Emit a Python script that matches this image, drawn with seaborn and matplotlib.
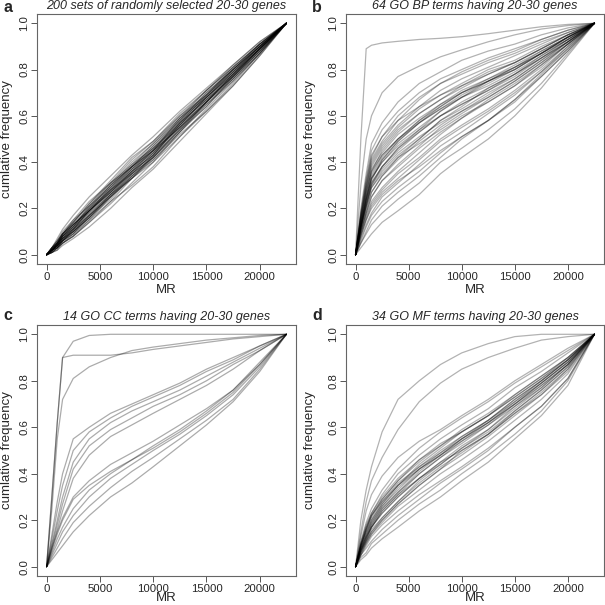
import numpy as np
import pandas as pd
import seaborn as sns
from matplotlib import pyplot as plt

mr_knots = [0, 500, 1000, 1500, 2500, 4000, 6000, 8000, 10000, 12500, 15000, 17500, 20000, 22500]

# a: random gene sets (readings at the inner knots)
random_sets = [
    [0.03, 0.06, 0.09, 0.14, 0.22, 0.31, 0.41, 0.49, 0.60, 0.71, 0.81, 0.91],
    [0.01, 0.03, 0.05, 0.08, 0.14, 0.22, 0.31, 0.40, 0.51, 0.63, 0.75, 0.87],
    [0.02, 0.05, 0.07, 0.12, 0.20, 0.28, 0.36, 0.43, 0.56, 0.68, 0.78, 0.89],
    [0.02, 0.04, 0.06, 0.10, 0.18, 0.28, 0.38, 0.47, 0.58, 0.68, 0.79, 0.90],
    [0.03, 0.05, 0.09, 0.13, 0.19, 0.27, 0.35, 0.42, 0.54, 0.66, 0.77, 0.89],
    [0.02, 0.03, 0.06, 0.09, 0.16, 0.24, 0.34, 0.43, 0.56, 0.68, 0.80, 0.90],
    [0.03, 0.06, 0.10, 0.15, 0.21, 0.29, 0.38, 0.45, 0.58, 0.70, 0.80, 0.90],
    [0.02, 0.04, 0.07, 0.10, 0.16, 0.26, 0.33, 0.40, 0.53, 0.65, 0.75, 0.87],
    [0.02, 0.05, 0.08, 0.12, 0.21, 0.30, 0.38, 0.47, 0.59, 0.69, 0.80, 0.91],
    [0.01, 0.03, 0.06, 0.11, 0.17, 0.25, 0.35, 0.44, 0.55, 0.65, 0.76, 0.88],
    [0.02, 0.04, 0.08, 0.11, 0.19, 0.29, 0.39, 0.46, 0.57, 0.67, 0.77, 0.89],
    [0.02, 0.04, 0.06, 0.09, 0.17, 0.27, 0.36, 0.45, 0.59, 0.71, 0.81, 0.91],
    [0.03, 0.05, 0.08, 0.13, 0.20, 0.30, 0.40, 0.48, 0.59, 0.68, 0.78, 0.89],
    [0.02, 0.03, 0.05, 0.09, 0.15, 0.25, 0.33, 0.41, 0.52, 0.62, 0.74, 0.87],
    [0.02, 0.04, 0.07, 0.12, 0.18, 0.26, 0.35, 0.44, 0.57, 0.67, 0.79, 0.90],
    [0.02, 0.05, 0.09, 0.14, 0.22, 0.32, 0.42, 0.49, 0.61, 0.71, 0.82, 0.92],
    [0.01, 0.02, 0.05, 0.08, 0.15, 0.23, 0.30, 0.38, 0.51, 0.62, 0.73, 0.86],
    [0.02, 0.04, 0.08, 0.12, 0.19, 0.27, 0.37, 0.45, 0.55, 0.66, 0.78, 0.90],
    [0.02, 0.04, 0.06, 0.11, 0.19, 0.28, 0.35, 0.42, 0.55, 0.67, 0.77, 0.88],
    [0.03, 0.06, 0.09, 0.13, 0.20, 0.30, 0.38, 0.46, 0.56, 0.68, 0.79, 0.89],
    [0.02, 0.03, 0.06, 0.10, 0.16, 0.25, 0.34, 0.42, 0.53, 0.64, 0.76, 0.88],
    [0.02, 0.04, 0.08, 0.13, 0.19, 0.29, 0.37, 0.46, 0.58, 0.70, 0.80, 0.91],
    [0.01, 0.03, 0.07, 0.10, 0.17, 0.26, 0.36, 0.43, 0.54, 0.66, 0.78, 0.89],
    [0.02, 0.05, 0.08, 0.13, 0.19, 0.27, 0.36, 0.45, 0.57, 0.69, 0.79, 0.90],
    [0.02, 0.04, 0.07, 0.11, 0.17, 0.25, 0.33, 0.42, 0.54, 0.64, 0.77, 0.88],
    [0.03, 0.05, 0.09, 0.14, 0.21, 0.31, 0.39, 0.48, 0.60, 0.69, 0.81, 0.91],
    [0.02, 0.04, 0.06, 0.10, 0.16, 0.26, 0.34, 0.41, 0.53, 0.66, 0.76, 0.87],
    [0.02, 0.05, 0.07, 0.11, 0.19, 0.28, 0.37, 0.44, 0.56, 0.66, 0.78, 0.89],
    [0.03, 0.07, 0.11, 0.17, 0.25, 0.34, 0.43, 0.51, 0.62, 0.72, 0.82, 0.92],
    [0.01, 0.02, 0.04, 0.07, 0.12, 0.20, 0.29, 0.37, 0.49, 0.61, 0.73, 0.86],
    [0.02, 0.05, 0.09, 0.15, 0.23, 0.31, 0.38, 0.45, 0.55, 0.66, 0.77, 0.89],
    [0.01, 0.03, 0.05, 0.08, 0.14, 0.23, 0.33, 0.43, 0.57, 0.69, 0.80, 0.90],
]

# b: GO BP terms
bp_terms = [
    [0.50, 0.89, 0.905, 0.915, 0.922, 0.93, 0.935, 0.942, 0.955, 0.97, 0.985, 0.995],
    [0.30, 0.50, 0.60, 0.70, 0.77, 0.815, 0.855, 0.885, 0.92, 0.95, 0.975, 0.99],
    [0.20, 0.35, 0.48, 0.57, 0.66, 0.74, 0.79, 0.84, 0.88, 0.91, 0.95, 0.98],
    [0.18, 0.33, 0.45, 0.54, 0.62, 0.70, 0.76, 0.80, 0.85, 0.89, 0.93, 0.97],
    [0.17, 0.30, 0.41, 0.49, 0.58, 0.67, 0.74, 0.79, 0.84, 0.88, 0.93, 0.97],
    [0.18, 0.32, 0.43, 0.51, 0.58, 0.64, 0.69, 0.73, 0.78, 0.83, 0.89, 0.95],
    [0.16, 0.29, 0.39, 0.47, 0.55, 0.63, 0.69, 0.74, 0.80, 0.84, 0.90, 0.95],
    [0.15, 0.28, 0.38, 0.46, 0.54, 0.61, 0.67, 0.73, 0.79, 0.83, 0.89, 0.95],
    [0.15, 0.27, 0.37, 0.44, 0.52, 0.59, 0.65, 0.70, 0.75, 0.80, 0.87, 0.94],
    [0.13, 0.24, 0.33, 0.41, 0.49, 0.57, 0.64, 0.70, 0.76, 0.82, 0.88, 0.94],
    [0.14, 0.25, 0.35, 0.43, 0.50, 0.58, 0.64, 0.70, 0.75, 0.81, 0.87, 0.94],
    [0.13, 0.24, 0.33, 0.40, 0.48, 0.55, 0.62, 0.68, 0.73, 0.79, 0.86, 0.93],
    [0.12, 0.22, 0.31, 0.38, 0.46, 0.54, 0.62, 0.68, 0.75, 0.80, 0.87, 0.93],
    [0.13, 0.24, 0.33, 0.40, 0.47, 0.54, 0.60, 0.65, 0.71, 0.77, 0.85, 0.92],
    [0.12, 0.23, 0.31, 0.38, 0.45, 0.53, 0.60, 0.65, 0.71, 0.78, 0.85, 0.93],
    [0.12, 0.21, 0.29, 0.36, 0.43, 0.50, 0.58, 0.63, 0.70, 0.76, 0.84, 0.92],
    [0.11, 0.20, 0.27, 0.34, 0.42, 0.50, 0.58, 0.64, 0.72, 0.78, 0.85, 0.92],
    [0.12, 0.21, 0.29, 0.35, 0.42, 0.48, 0.54, 0.60, 0.66, 0.73, 0.82, 0.91],
    [0.10, 0.18, 0.25, 0.32, 0.38, 0.46, 0.53, 0.59, 0.66, 0.73, 0.81, 0.91],
    [0.09, 0.17, 0.23, 0.29, 0.36, 0.44, 0.52, 0.59, 0.67, 0.74, 0.82, 0.91],
    [0.08, 0.15, 0.21, 0.27, 0.33, 0.41, 0.49, 0.55, 0.62, 0.70, 0.79, 0.90],
    [0.08, 0.15, 0.20, 0.26, 0.32, 0.38, 0.45, 0.51, 0.58, 0.67, 0.77, 0.88],
    [0.06, 0.12, 0.17, 0.23, 0.29, 0.36, 0.44, 0.51, 0.58, 0.66, 0.77, 0.88],
    [0.05, 0.10, 0.15, 0.21, 0.27, 0.34, 0.42, 0.50, 0.58, 0.67, 0.78, 0.89],
    [0.05, 0.09, 0.13, 0.18, 0.24, 0.31, 0.40, 0.46, 0.54, 0.63, 0.74, 0.87],
    [0.03, 0.06, 0.09, 0.14, 0.19, 0.26, 0.35, 0.42, 0.50, 0.60, 0.72, 0.86],
    [0.16, 0.29, 0.40, 0.48, 0.56, 0.64, 0.71, 0.76, 0.81, 0.86, 0.91, 0.96],
    [0.14, 0.26, 0.36, 0.45, 0.53, 0.61, 0.67, 0.72, 0.78, 0.83, 0.89, 0.95],
    [0.13, 0.25, 0.34, 0.42, 0.50, 0.58, 0.65, 0.71, 0.76, 0.81, 0.87, 0.94],
    [0.15, 0.27, 0.36, 0.43, 0.50, 0.57, 0.63, 0.68, 0.74, 0.80, 0.87, 0.94],
    [0.12, 0.23, 0.32, 0.41, 0.49, 0.57, 0.63, 0.69, 0.75, 0.81, 0.88, 0.94],
    [0.11, 0.21, 0.30, 0.38, 0.46, 0.53, 0.60, 0.66, 0.72, 0.78, 0.86, 0.93],
    [0.12, 0.22, 0.30, 0.37, 0.44, 0.51, 0.57, 0.62, 0.68, 0.75, 0.83, 0.92],
    [0.10, 0.19, 0.27, 0.34, 0.41, 0.49, 0.56, 0.62, 0.69, 0.76, 0.84, 0.92],
    [0.10, 0.18, 0.25, 0.32, 0.39, 0.47, 0.55, 0.61, 0.68, 0.75, 0.83, 0.91],
    [0.09, 0.16, 0.22, 0.28, 0.35, 0.42, 0.50, 0.56, 0.63, 0.71, 0.80, 0.90],
    [0.07, 0.13, 0.18, 0.25, 0.31, 0.39, 0.47, 0.53, 0.61, 0.69, 0.79, 0.89],
    [0.17, 0.31, 0.42, 0.51, 0.60, 0.68, 0.74, 0.78, 0.83, 0.87, 0.92, 0.96],
]

# c: GO CC terms
cc_terms = [
    [0.30, 0.62, 0.90, 0.97, 0.995, 1.0, 1.0, 1.0, 1.0, 1.0, 1.0, 1.0],
    [0.31, 0.62, 0.90, 0.91, 0.91, 0.91, 0.92, 0.935, 0.95, 0.965, 0.98, 0.99],
    [0.25, 0.55, 0.72, 0.81, 0.86, 0.90, 0.93, 0.945, 0.96, 0.975, 0.985, 0.995],
    [0.14, 0.28, 0.40, 0.55, 0.60, 0.66, 0.70, 0.74, 0.79, 0.85, 0.90, 0.95],
    [0.12, 0.24, 0.35, 0.50, 0.58, 0.64, 0.69, 0.73, 0.78, 0.84, 0.89, 0.95],
    [0.10, 0.20, 0.30, 0.45, 0.55, 0.62, 0.67, 0.71, 0.76, 0.82, 0.88, 0.94],
    [0.09, 0.18, 0.27, 0.42, 0.52, 0.59, 0.64, 0.69, 0.74, 0.80, 0.87, 0.93],
    [0.08, 0.16, 0.24, 0.38, 0.48, 0.56, 0.61, 0.66, 0.72, 0.78, 0.85, 0.93],
    [0.07, 0.14, 0.20, 0.29, 0.35, 0.41, 0.46, 0.51, 0.58, 0.66, 0.75, 0.87],
    [0.08, 0.15, 0.21, 0.30, 0.37, 0.44, 0.49, 0.54, 0.61, 0.68, 0.76, 0.88],
    [0.06, 0.12, 0.17, 0.25, 0.33, 0.40, 0.46, 0.52, 0.59, 0.67, 0.76, 0.87],
    [0.05, 0.10, 0.15, 0.22, 0.30, 0.38, 0.44, 0.50, 0.57, 0.65, 0.74, 0.86],
    [0.04, 0.08, 0.12, 0.19, 0.26, 0.34, 0.41, 0.47, 0.55, 0.63, 0.72, 0.85],
    [0.03, 0.06, 0.09, 0.15, 0.22, 0.30, 0.36, 0.43, 0.52, 0.61, 0.71, 0.84],
]

# d: GO MF terms
mf_terms = [
    [0.20, 0.33, 0.43, 0.58, 0.72, 0.80, 0.87, 0.92, 0.96, 0.99, 1.0, 1.0],
    [0.15, 0.28, 0.37, 0.47, 0.59, 0.71, 0.79, 0.85, 0.90, 0.94, 0.975, 0.99],
    [0.13, 0.24, 0.31, 0.39, 0.47, 0.54, 0.59, 0.65, 0.72, 0.80, 0.87, 0.94],
    [0.11, 0.19, 0.25, 0.33, 0.42, 0.51, 0.58, 0.64, 0.71, 0.79, 0.86, 0.93],
    [0.10, 0.18, 0.23, 0.31, 0.40, 0.48, 0.55, 0.61, 0.68, 0.77, 0.84, 0.92],
    [0.10, 0.17, 0.23, 0.30, 0.38, 0.46, 0.53, 0.58, 0.65, 0.73, 0.81, 0.89],
    [0.09, 0.15, 0.20, 0.27, 0.35, 0.44, 0.51, 0.58, 0.65, 0.74, 0.82, 0.90],
    [0.09, 0.16, 0.22, 0.29, 0.37, 0.46, 0.52, 0.59, 0.66, 0.74, 0.82, 0.90],
    [0.09, 0.15, 0.20, 0.27, 0.35, 0.43, 0.50, 0.56, 0.63, 0.72, 0.80, 0.89],
    [0.09, 0.16, 0.21, 0.28, 0.36, 0.43, 0.49, 0.55, 0.62, 0.70, 0.78, 0.87],
    [0.08, 0.14, 0.19, 0.26, 0.33, 0.42, 0.48, 0.55, 0.62, 0.71, 0.79, 0.88],
    [0.08, 0.13, 0.18, 0.25, 0.32, 0.41, 0.48, 0.55, 0.63, 0.71, 0.80, 0.89],
    [0.08, 0.13, 0.18, 0.25, 0.32, 0.40, 0.47, 0.53, 0.61, 0.69, 0.78, 0.87],
    [0.07, 0.13, 0.17, 0.24, 0.31, 0.38, 0.45, 0.50, 0.57, 0.66, 0.75, 0.85],
    [0.07, 0.12, 0.17, 0.23, 0.30, 0.38, 0.45, 0.52, 0.59, 0.69, 0.77, 0.87],
    [0.07, 0.12, 0.17, 0.23, 0.30, 0.38, 0.44, 0.51, 0.58, 0.67, 0.76, 0.86],
    [0.07, 0.11, 0.16, 0.21, 0.28, 0.36, 0.43, 0.49, 0.57, 0.66, 0.74, 0.85],
    [0.06, 0.11, 0.15, 0.20, 0.27, 0.35, 0.42, 0.50, 0.57, 0.67, 0.76, 0.86],
    [0.06, 0.10, 0.14, 0.19, 0.26, 0.33, 0.40, 0.46, 0.54, 0.63, 0.72, 0.83],
    [0.05, 0.09, 0.13, 0.18, 0.24, 0.31, 0.37, 0.43, 0.51, 0.60, 0.69, 0.81],
    [0.05, 0.08, 0.11, 0.16, 0.22, 0.29, 0.36, 0.42, 0.50, 0.60, 0.69, 0.81],
    [0.04, 0.06, 0.10, 0.14, 0.20, 0.27, 0.33, 0.40, 0.48, 0.57, 0.67, 0.80],
    [0.03, 0.05, 0.08, 0.12, 0.17, 0.24, 0.30, 0.37, 0.45, 0.55, 0.65, 0.78],
    [0.09, 0.16, 0.22, 0.29, 0.37, 0.45, 0.52, 0.58, 0.65, 0.73, 0.81, 0.90],
    [0.08, 0.14, 0.19, 0.26, 0.34, 0.42, 0.49, 0.56, 0.63, 0.72, 0.80, 0.89],
    [0.07, 0.12, 0.17, 0.24, 0.31, 0.40, 0.47, 0.54, 0.62, 0.70, 0.79, 0.88],
    [0.06, 0.11, 0.15, 0.21, 0.28, 0.37, 0.44, 0.51, 0.59, 0.68, 0.77, 0.87],
    [0.10, 0.17, 0.22, 0.28, 0.35, 0.42, 0.48, 0.54, 0.61, 0.70, 0.79, 0.88],
    [0.05, 0.10, 0.14, 0.20, 0.27, 0.35, 0.42, 0.48, 0.56, 0.65, 0.74, 0.84],
]

panel_titles = ["200 sets of randomly selected 20-30 genes",
                "64 GO BP terms having 20-30 genes",
                "14 GO CC terms having 20-30 genes",
                "34 GO MF terms having 20-30 genes"]
panel_letters = ["a", "b", "c", "d"]
panel_alpha = [0.33, 0.3, 0.33, 0.3]


def long_table(curves):
    rows = []
    for i, inner in enumerate(curves):
        ys = [0.0] + list(inner) + [1.0]
        for x, y in zip(mr_knots, ys):
            rows.append((i, x, y))
    return pd.DataFrame(rows, columns=["set", "MR", "freq"])


sns.set_style("white")
plt.rcParams["font.family"] = ["Liberation Sans", "DejaVu Sans"]

W = 605
fig = plt.figure(figsize=(6.05, 6.05), dpi=100)

# axes boxes in pixels: left, top, right, bottom
boxes = [(37, 14, 296, 264), (346, 14, 604, 264),
         (37, 325, 296, 576), (346, 325, 604, 576)]
letter_pos = [(3, 7), (312, 7), (3, 316), (312, 316)]
xlabel_drop = [26, 26, 22, 22]   # centre of "MR" below the box
ylabel_gap = [24, 30, 24, 30]    # right edge of y label left of the box

for k, curves in enumerate([random_sets, bp_terms, cc_terms, mf_terms]):
    l, t, r, b = boxes[k]
    ax = fig.add_axes([l / W, 1 - b / W, (r - l) / W, (b - t) / W])
    df = long_table(curves)
    sns.lineplot(data=df, x="MR", y="freq", units="set", estimator=None,
                 color="black", alpha=panel_alpha[k], lw=0.9, ax=ax, legend=False)
    ax.set_xlim(-0.04 * 22500, 1.04 * 22500)
    ax.set_ylim(-0.04, 1.04)
    ax.set_xticks([0, 5000, 10000, 15000, 20000])
    ax.set_xticklabels(["0", "5000", "10000", "15000", "20000"], fontsize=8.2)
    ax.set_yticks([0, 0.2, 0.4, 0.6, 0.8, 1.0])
    ax.set_yticklabels(["0.0", "0.2", "0.4", "0.6", "0.8", "1.0"], fontsize=8.2,
                       rotation=90, va="center")
    ax.tick_params(direction="out", length=4, width=0.7, color="#555555", pad=1.5,
                   left=True, bottom=True)
    for s in ax.spines.values():
        s.set_color("#666666")
        s.set_linewidth(0.8)
    ax.set_xlabel("MR", fontsize=9.5, va="center")
    ax.set_ylabel("cumlative frequency", fontsize=9.5)
    ax.xaxis.set_label_coords(0.5, -xlabel_drop[k] / (b - t))
    ax.yaxis.set_label_coords(-ylabel_gap[k] / (r - l), 0.5)
    ax.text(0.5, 1.0 + 8 / (b - t), panel_titles[k], transform=ax.transAxes,
            ha="center", va="center", style="italic", fontsize=9)
    fig.text(letter_pos[k][0] / W, 1 - letter_pos[k][1] / W, panel_letters[k],
             ha="left", va="center", fontweight="bold", fontsize=11.5)

fig.savefig("out.png", dpi=100)
